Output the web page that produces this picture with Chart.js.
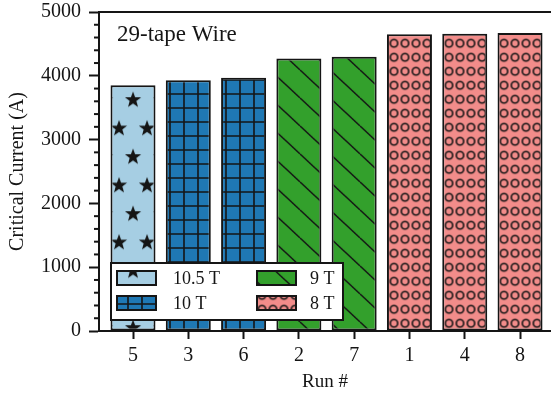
<!DOCTYPE html>
<html>
<head>
<meta charset="utf-8">
<script src="https://cdn.jsdelivr.net/npm/chart.js@4/dist/chart.umd.min.js"></script>
<style>
html,body{margin:0;padding:0;background:#fff;overflow:hidden;}
#wrap{width:551px;height:393px;position:relative;}
</style>
</head>
<body>
<div id="wrap"><canvas id="c" width="551" height="393"></canvas></div>
<script>
// ---- data ----
const runLabels = ['5', '3', '6', '2', '7', '1', '4', '8'];
const criticalCurrent = [3850, 3930, 3970, 4270, 4300, 4650, 4660, 4670];
const fieldLabels = ['10.5 T', '10 T', '9 T', '8 T'];
const fieldOfRun = [0, 1, 1, 2, 2, 3, 3, 3];
const yTicksMajor = [0, 1000, 2000, 3000, 4000, 5000];
const chartTitle = '29-tape Wire';

const INK = '#151515';
const SERIF = '"Liberation Serif", "Times New Roman", serif';

function makePattern(w, h, bg, draw, tx, ty) {
  const c = document.createElement('canvas');
  c.width = w; c.height = h;
  const g = c.getContext('2d');
  g.fillStyle = bg; g.fillRect(0, 0, w, h);
  g.fillStyle = INK; g.strokeStyle = INK;
  draw(g, w, h);
  const p = document.createElement('canvas').getContext('2d').createPattern(c, 'repeat');
  p.setTransform(new DOMMatrix().translate(tx, ty));
  return p;
}
function star(g, cx, cy, R, r) {
  g.beginPath();
  for (let i = 0; i < 10; i++) {
    const rad = i % 2 ? r : R;
    const a = -Math.PI / 2 + i * Math.PI / 5;
    const x = cx + rad * Math.cos(a), y = cy + rad * Math.sin(a);
    i ? g.lineTo(x, y) : g.moveTo(x, y);
  }
  g.closePath(); g.fill();
}
const patterns = [
  makePattern(28, 57, '#a6cee3', (g, w, h) => {
    for (const [sx, sy] of [[7, 14.25], [21, 42.75]])
      for (const dx of [-w, 0, w]) for (const dy of [-h, 0, h]) star(g, sx + dx, sy + dy, 8.5, 3.5);
  }, 112, 57.25),
  makePattern(14, 14, '#1f78b4', (g, w, h) => {
    g.lineWidth = 1.6;
    g.beginPath(); g.moveTo(7, 0); g.lineTo(7, h); g.moveTo(0, 7); g.lineTo(w, 7); g.stroke();
  }, 163, 73),
  makePattern(30, 28, '#33a02c', (g, w, h) => {
    g.lineWidth = 1.4;
    g.beginPath();
    for (const k of [-1, 0, 1]) { g.moveTo(0, k * h); g.lineTo(w, h + k * h); }
    g.stroke();
  }, 0, 13.9),
  makePattern(11, 14, '#f28c8a', (g, w, h) => {
    g.lineWidth = 1.6;
    g.beginPath(); g.arc(5.5, 7, 3.7, 0, Math.PI * 2); g.stroke();
  }, 388.5, 36.3)
];

const datasets = fieldLabels.map((lab, f) => ({
  label: lab,
  data: runLabels.map((r, i) => fieldOfRun[i] === f ? { x: i + 1, y: criticalCurrent[i] } : null).filter(Boolean),
  backgroundColor: patterns[f],
  borderColor: INK,
  borderWidth: 2,
  borderSkipped: false,
  grouped: false,
  categoryPercentage: 1,
  barPercentage: 0.814
}));

const framePlugin = {
  id: 'frame',
  afterDraw(chart) {
    const ctx = chart.ctx, a = chart.chartArea, y = chart.scales.y;
    ctx.save();
    ctx.strokeStyle = INK; ctx.lineWidth = 2;
    ctx.beginPath(); ctx.moveTo(a.left - 1, a.top); ctx.lineTo(a.right, a.top); ctx.stroke();
    for (const t of y.ticks) {
      if (t.value % 1000 === 0) continue;
      const py = y.getPixelForValue(t.value);
      ctx.beginPath(); ctx.moveTo(a.left - 5, py); ctx.lineTo(a.left, py); ctx.stroke();
    }
    ctx.fillStyle = INK;
    ctx.font = '23px ' + SERIF;
    ctx.textAlign = 'left'; ctx.textBaseline = 'middle';
    ctx.fillText(chartTitle, a.left + 18, a.top + 23);
    const bx = a.left + 12, by = a.bottom - 68, bw = 232, bh = 57;
    ctx.fillStyle = '#fff'; ctx.fillRect(bx, by, bw, bh);
    ctx.lineWidth = 2; ctx.strokeRect(bx, by, bw, bh);
    ctx.font = '18px ' + SERIF;
    chart.data.datasets.forEach((ds, i) => {
      const col = Math.floor(i / 2), row = i % 2;
      const sx = bx + 6 + col * 140, sy = by + 8 + row * 25;
      ctx.fillStyle = ds.backgroundColor;
      ctx.fillRect(sx, sy, 39, 14);
      ctx.strokeStyle = INK; ctx.lineWidth = 2;
      ctx.strokeRect(sx, sy, 39, 14);
      ctx.fillStyle = INK;
      ctx.fillText(ds.label, sx + 56 - col * 3, sy + 8);
    });
    ctx.restore();
  }
};

new Chart(document.getElementById('c'), {
  type: 'bar',
  data: { datasets },
  plugins: [framePlugin],
  options: {
    responsive: false,
    animation: false,
    events: [],
    layout: { padding: { top: 0, right: 0, left: 0, bottom: 0 } },
    plugins: { legend: { display: false }, tooltip: { enabled: false }, title: { display: false } },
    scales: {
      x: {
        type: 'linear',
        offset: false,
        min: 0.385,
        max: 8.56,
        afterBuildTicks: s => { s.ticks = runLabels.map((_, i) => ({ value: i + 1 })); },
        afterFit: s => { s.height = 62; s.paddingLeft = 0; s.paddingRight = 0; },
        ticks: {
          autoSkip: false, maxRotation: 0,
          callback: v => runLabels[v - 1],
          color: INK, font: { family: SERIF, size: 20 }, padding: 5
        },
        grid: { offset: false, drawOnChartArea: false, drawTicks: true, tickLength: 8, tickWidth: 2, tickColor: INK },
        border: { display: true, color: INK, width: 2 },
        title: { display: true, text: 'Run #', color: INK, font: { family: SERIF, size: 19, lineHeight: 1 }, padding: { top: 0, bottom: 1 } }
      },
      y: {
        min: 0, max: 5000,
        afterFit: s => { s.width = 99; s.paddingTop = 12; s.paddingBottom = 0; },
        ticks: {
          stepSize: 200, autoSkip: false,
          callback: v => yTicksMajor.includes(v) ? String(v) : '',
          color: INK, font: { family: SERIF, size: 20 }, padding: 8
        },
        grid: {
          drawOnChartArea: false, drawTicks: true, tickLength: 10, tickWidth: 2,
          tickColor: c => (c.tick && c.tick.value % 1000 === 0) ? INK : 'rgba(0,0,0,0)'
        },
        border: { display: true, color: INK, width: 2 },
        title: { display: true, text: 'Critical Current (A)', color: INK, font: { family: SERIF, size: 20, lineHeight: 1.2 }, padding: { top: 6, bottom: 0 } }
      }
    }
  }
});
</script>
</body>
</html>
